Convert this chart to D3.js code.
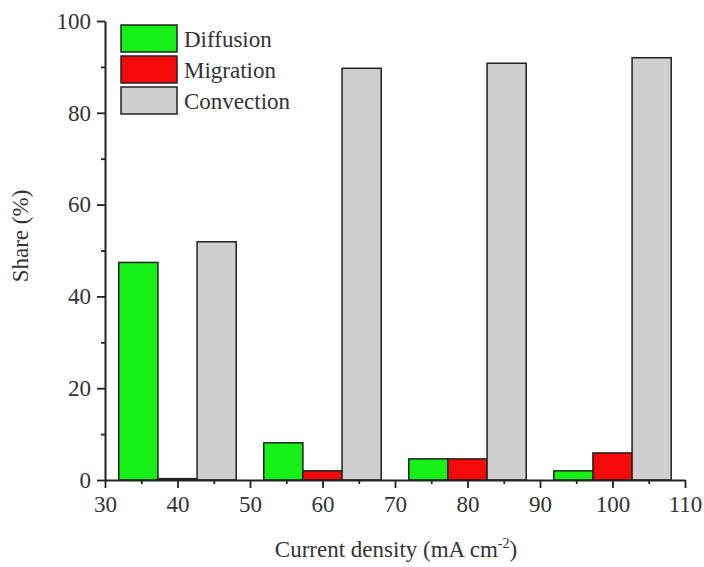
<!DOCTYPE html>
<html>
<head>
<meta charset="utf-8">
<script src="https://cdn.jsdelivr.net/npm/d3@7"></script>
<style>
  html, body { margin: 0; padding: 0; background: #fff; }
  svg text { font-family: "Liberation Serif", "DejaVu Serif", serif; fill: #333; }
</style>
</head>
<body>
<svg id="chart" width="704" height="567"></svg>
<script>
// Current densities (mA cm^-2) at which the transport shares were evaluated
const currentDensity = [40, 60, 80, 100];
const seriesNames = ["Diffusion", "Migration", "Convection"];
const diffusion  = [47.4, 8.1, 4.6, 2.0];
const migration  = [0.3, 2.0, 4.6, 5.9];
const convection = [51.9, 89.7, 90.8, 92.0];
const seriesColors = ["#16f016", "#f50a0a", "#cfcfcf"];
const xTicks = [30, 40, 50, 60, 70, 80, 90, 100, 110];
const yTicks = [0, 20, 40, 60, 80, 100];

const seriesValues = [diffusion, migration, convection];
const svg = d3.select("#chart");

const margin = { left: 105, right: 19, top: 21, bottom: 87 };
const W = 704, H = 567;
const fontFamily = "Liberation Serif, DejaVu Serif, serif";

const x = d3.scaleLinear().domain([30, 110]).range([margin.left, W - margin.right]);
const y = d3.scaleLinear().domain([0, 100]).range([H - margin.bottom, margin.top]);

const barWidth = 5.4; // in data units (mA cm^-2)

// Bars: three adjacent bars per current density, migration centred on it
const bars = [];
currentDensity.forEach((cd, i) => {
  seriesValues.forEach((vals, s) => {
    const x0 = cd + (s - 1.5) * barWidth;
    bars.push({ x0, x1: x0 + barWidth, v: vals[i], s });
  });
});

svg.append("g").selectAll("rect")
  .data(bars)
  .join("rect")
  .attr("x", d => x(d.x0))
  .attr("width", d => x(d.x1) - x(d.x0))
  .attr("y", d => y(d.v))
  .attr("height", d => y(0) - y(d.v))
  .attr("fill", d => seriesColors[d.s])
  .attr("stroke", "#222")
  .attr("stroke-width", 1.5);

// Axes with outward major and minor ticks
const axisColor = "#222";
const gx = svg.append("g").attr("transform", `translate(0,${y(0)})`);
gx.call(d3.axisBottom(x).tickValues(d3.range(35, 110, 10)).tickSize(4).tickFormat(""));
gx.call(g => g.select(".domain").remove());
svg.append("g").attr("transform", `translate(0,${y(0)})`)
  .attr("font-family", fontFamily)
  .call(d3.axisBottom(x).tickValues(xTicks).tickSize(8).tickPadding(8).tickSizeOuter(0));

const gy = svg.append("g").attr("transform", `translate(${x(30)},0)`);
gy.call(d3.axisLeft(y).tickValues(d3.range(10, 100, 20)).tickSize(4).tickFormat(""));
gy.call(g => g.select(".domain").remove());
svg.append("g").attr("transform", `translate(${x(30)},0)`)
  .attr("font-family", fontFamily)
  .call(d3.axisLeft(y).tickValues(yTicks).tickSize(8).tickPadding(6).tickSizeOuter(0));

svg.selectAll(".tick line").attr("stroke", axisColor).attr("stroke-width", 1.8);
svg.selectAll(".domain").attr("stroke", axisColor).attr("stroke-width", 2);
svg.selectAll(".tick text")
  .attr("font-size", 23)
  .attr("font-family", fontFamily)
  .attr("fill", "#333");

// Axis titles
svg.append("text")
  .attr("transform", `translate(28,236) rotate(-90)`)
  .attr("text-anchor", "middle")
  .attr("font-size", 23)
  .text("Share (%)");

const xt = svg.append("text")
  .attr("x", 396)
  .attr("y", 557)
  .attr("text-anchor", "middle")
  .attr("font-size", 23);
xt.append("tspan").text("Current density (mA cm");
xt.append("tspan").attr("dy", -9).attr("font-size", 14).text("-2");
xt.append("tspan").attr("dy", 9).text(")");

// Legend
const legend = svg.append("g").attr("transform", "translate(121,25)");
seriesNames.forEach((name, i) => {
  const g = legend.append("g").attr("transform", `translate(0,${i * 31})`);
  g.append("rect").attr("width", 56).attr("height", 27)
    .attr("fill", seriesColors[i]).attr("stroke", "#222").attr("stroke-width", 1.5);
  g.append("text").attr("x", 63).attr("y", 22).attr("font-size", 23).text(name);
});
</script>
</body>
</html>
